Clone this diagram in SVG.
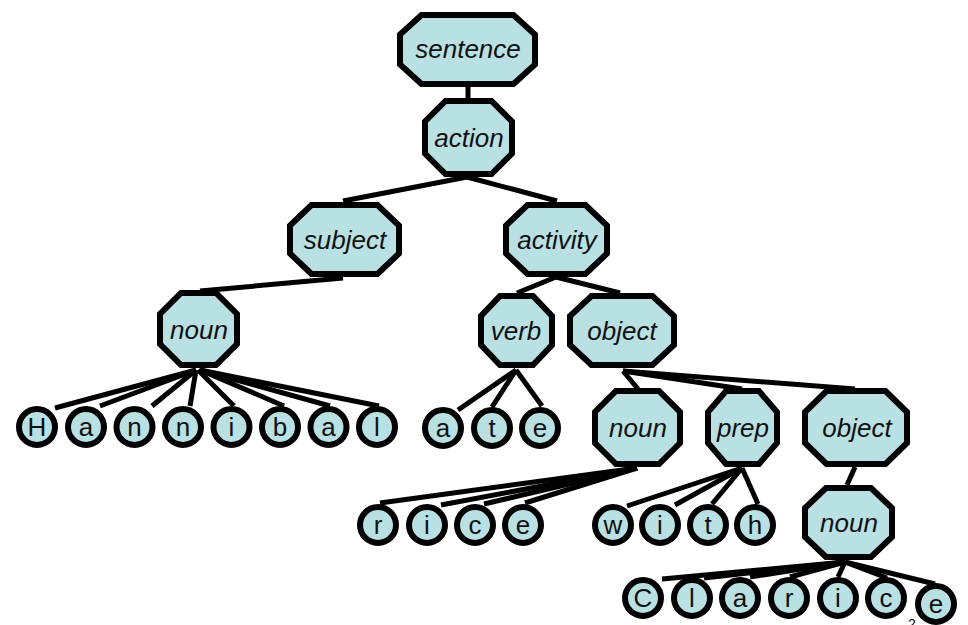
<svg xmlns="http://www.w3.org/2000/svg" width="968" height="625" viewBox="0 0 968 625">
<style>
.oct{fill:#b9e0e3;stroke:#000;stroke-width:6;stroke-linejoin:miter}
.cir{fill:#b9e0e3;stroke:#000;stroke-width:6}
.lbl{font-family:"Liberation Sans",Arial,sans-serif;font-size:26px;font-style:italic;text-anchor:middle;fill:#111}
.ltr{font-family:"Liberation Sans",Arial,sans-serif;font-size:26px;text-anchor:middle;fill:#111}
.edges line{stroke:#000;stroke-width:5}
.pg{font-family:"Liberation Sans",Arial,sans-serif;font-size:14px;fill:#111}
</style>
<rect width="968" height="625" fill="#fff"/>
<g class="edges" id="connectors">
<line x1="468" y1="87" x2="468" y2="99"/>
<line x1="467" y1="177" x2="343" y2="201"/>
<line x1="467" y1="177" x2="557" y2="201"/>
<line x1="343" y1="278" x2="200" y2="291"/>
<line x1="556" y1="277" x2="517" y2="293"/>
<line x1="556" y1="277" x2="620" y2="293"/>
<line x1="196" y1="370" x2="55" y2="408"/>
<line x1="196" y1="370" x2="100" y2="406"/>
<line x1="196" y1="370" x2="152" y2="406"/>
<line x1="196" y1="370" x2="190" y2="406"/>
<line x1="198" y1="370" x2="234" y2="406"/>
<line x1="200" y1="370" x2="284" y2="406"/>
<line x1="200" y1="370" x2="330" y2="406"/>
<line x1="200" y1="370" x2="379" y2="406"/>
<line x1="516" y1="370" x2="458" y2="410"/>
<line x1="516" y1="370" x2="492" y2="407"/>
<line x1="516" y1="370" x2="542" y2="406"/>
<line x1="623" y1="371" x2="638" y2="389"/>
<line x1="623" y1="371" x2="742" y2="389"/>
<line x1="623" y1="371" x2="855" y2="389"/>
<line x1="637" y1="468" x2="380" y2="503"/>
<line x1="637" y1="468" x2="441" y2="505"/>
<line x1="637" y1="468" x2="484" y2="504"/>
<line x1="637" y1="468" x2="525" y2="503"/>
<line x1="742" y1="468" x2="627" y2="506"/>
<line x1="742" y1="468" x2="675" y2="505"/>
<line x1="742" y1="468" x2="712" y2="504"/>
<line x1="742" y1="468" x2="758" y2="504"/>
<line x1="855" y1="467" x2="847" y2="485"/>
<line x1="845" y1="562" x2="662" y2="579"/>
<line x1="845" y1="562" x2="704" y2="578"/>
<line x1="845" y1="562" x2="750" y2="577"/>
<line x1="845" y1="562" x2="790" y2="577"/>
<line x1="845" y1="562" x2="838" y2="577"/>
<line x1="845" y1="562" x2="887" y2="578"/>
<line x1="845" y1="562" x2="935" y2="584"/>
</g>
<g id="sentence"><polygon class="oct" points="421.5,15 513.5,15 535,34.5 535,64.5 513.5,84 421.5,84 400,64.5 400,34.5"/><text class="lbl" x="468" y="58">sentence</text></g>
<g id="action"><polygon class="oct" points="445.5,101 491.5,101 512,121.5 512,153.5 491.5,174 445.5,174 425,153.5 425,121.5"/><text class="lbl" x="469" y="147">action</text></g>
<g id="subject"><polygon class="oct" points="311.5,205 377.5,205 399,225.5 399,253.5 377.5,274 311.5,274 290,253.5 290,225.5"/><text class="lbl" x="345" y="249">subject</text></g>
<g id="activity"><polygon class="oct" points="527.5,205 585.5,205 607,225.5 607,253.5 585.5,274 527.5,274 506,253.5 506,225.5"/><text class="lbl" x="557" y="249">activity</text></g>
<g id="noun1"><polygon class="oct" points="181,293 216,293 237,314 237,344 216,365 181,365 160,344 160,314"/><text class="lbl" x="199" y="339">noun</text></g>
<g id="verb"><polygon class="oct" points="500,296 533,296 552,316 552,345 533,365 500,365 481,345 481,316"/><text class="lbl" x="516" y="340">verb</text></g>
<g id="object1"><polygon class="oct" points="591.5,296 652.5,296 674,316 674,345 652.5,365 591.5,365 570,345 570,316"/><text class="lbl" x="622" y="340">object</text></g>
<g id="noun2"><polygon class="oct" points="616,391 659,391 680,412 680,443 659,464 616,464 595,443 595,412"/><text class="lbl" x="638" y="437">noun</text></g>
<g id="prep"><polygon class="oct" points="726,391 759,391 777,412 777,443 759,464 726,464 708,443 708,412"/><text class="lbl" x="743" y="437">prep</text></g>
<g id="object2"><polygon class="oct" points="826.5,391 885.5,391 907,412 907,443 885.5,464 826.5,464 805,443 805,412"/><text class="lbl" x="857" y="437">object</text></g>
<g id="noun3"><polygon class="oct" points="826,488 871,488 892,508 892,537 871,557 826,557 805,537 805,508"/><text class="lbl" x="849" y="532">noun</text></g>
<g id="H"><circle class="cir" cx="37" cy="427" r="18"/><text class="ltr" x="37" y="436">H</text></g>
<g id="a1"><circle class="cir" cx="86" cy="427" r="18"/><text class="ltr" x="86" y="436">a</text></g>
<g id="n1"><circle class="cir" cx="134.5" cy="427" r="18"/><text class="ltr" x="134.5" y="436">n</text></g>
<g id="n2"><circle class="cir" cx="183" cy="427" r="18"/><text class="ltr" x="183" y="436">n</text></g>
<g id="i1"><circle class="cir" cx="231.5" cy="427" r="18"/><text class="ltr" x="231.5" y="436">i</text></g>
<g id="b1"><circle class="cir" cx="280" cy="427" r="18"/><text class="ltr" x="280" y="436">b</text></g>
<g id="a2"><circle class="cir" cx="328.5" cy="427" r="18"/><text class="ltr" x="328.5" y="436">a</text></g>
<g id="l1"><circle class="cir" cx="377" cy="427" r="18"/><text class="ltr" x="377" y="436">l</text></g>
<g id="a3"><circle class="cir" cx="443" cy="428" r="18"/><text class="ltr" x="443" y="437">a</text></g>
<g id="t1"><circle class="cir" cx="492" cy="428" r="18"/><text class="ltr" x="492" y="437">t</text></g>
<g id="e1"><circle class="cir" cx="540" cy="428" r="18"/><text class="ltr" x="540" y="437">e</text></g>
<g id="r1"><circle class="cir" cx="378" cy="525" r="18"/><text class="ltr" x="378" y="534">r</text></g>
<g id="i2"><circle class="cir" cx="427" cy="525" r="18"/><text class="ltr" x="427" y="534">i</text></g>
<g id="c1"><circle class="cir" cx="475" cy="525" r="18"/><text class="ltr" x="475" y="534">c</text></g>
<g id="e2"><circle class="cir" cx="523" cy="525" r="18"/><text class="ltr" x="523" y="534">e</text></g>
<g id="w1"><circle class="cir" cx="613" cy="525" r="18"/><text class="ltr" x="613" y="534">w</text></g>
<g id="i3"><circle class="cir" cx="660" cy="525" r="18"/><text class="ltr" x="660" y="534">i</text></g>
<g id="t2"><circle class="cir" cx="708" cy="525" r="18"/><text class="ltr" x="708" y="534">t</text></g>
<g id="h1"><circle class="cir" cx="755" cy="525" r="18"/><text class="ltr" x="755" y="534">h</text></g>
<g id="C1"><circle class="cir" cx="643" cy="598" r="18"/><text class="ltr" x="643" y="607">C</text></g>
<g id="l2"><circle class="cir" cx="692" cy="598" r="18"/><text class="ltr" x="692" y="607">l</text></g>
<g id="a4"><circle class="cir" cx="740" cy="598" r="18"/><text class="ltr" x="740" y="607">a</text></g>
<g id="r2"><circle class="cir" cx="789" cy="598" r="18"/><text class="ltr" x="789" y="607">r</text></g>
<g id="i4"><circle class="cir" cx="838" cy="598" r="18"/><text class="ltr" x="838" y="607">i</text></g>
<g id="c2"><circle class="cir" cx="886" cy="598" r="18"/><text class="ltr" x="886" y="607">c</text></g>
<g id="e3"><circle class="cir" cx="936" cy="604" r="18"/><text class="ltr" x="936" y="613">e</text></g>
<text class="pg" x="908" y="629">2</text>
</svg>
